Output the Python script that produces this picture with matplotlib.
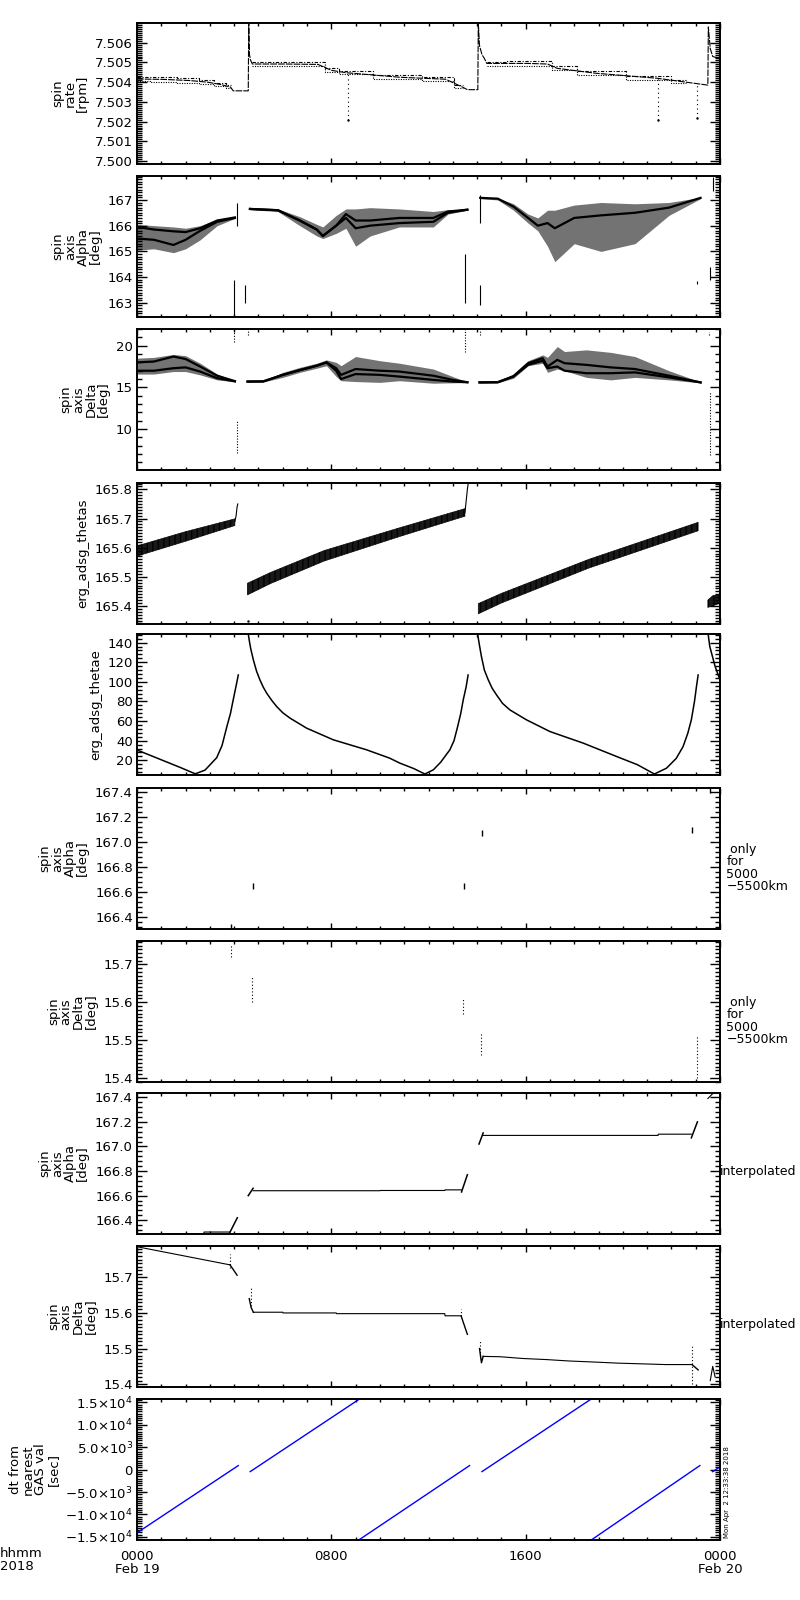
import numpy as np
import matplotlib
matplotlib.use("Agg")
import matplotlib.pyplot as plt
from matplotlib.ticker import MultipleLocator, AutoMinorLocator, FixedLocator

plt.rcParams['font.family'] = ['DejaVu Sans']
plt.rcParams['font.size'] = 9.5

## DATA (hours after 0000 UT on Feb 19) ##
# spin rate [rpm]: centre line of the banded trace
rate_t = [0.0, 1.1, 2.2, 2.9, 3.45, 3.85, 3.96, 4.58, 4.60, 4.63, 4.68, 4.75, 6.1, 7.45, 8.0, 8.6,
          10.8, 12.7, 13.4, 13.6, 14.03, 14.05, 14.1, 14.2, 14.3, 14.4, 16.1, 16.9, 17.3, 18.9,
          21.4, 22.6, 23.5, 23.52, 23.6, 23.7, 24.0]
rate_v = [7.50416, 7.50414, 7.50408, 7.50400, 7.50388, 7.50375, 7.50356, 7.50356, 7.50700, 7.50540,
          7.50510, 7.50492, 7.50492, 7.50490, 7.50460, 7.50448, 7.50425, 7.50415, 7.50375, 7.50362,
          7.50362, 7.50700, 7.50585, 7.50540, 7.50520, 7.50495, 7.50495, 7.50492, 7.50470, 7.50445,
          7.50420, 7.50400, 7.50385, 7.50680, 7.50570, 7.50530, 7.50520]
rate_band_t = [[0.0, 1.1, 2.2, 2.9, 3.45, 3.85],
               [4.75, 6.1, 7.45, 8.0, 8.6, 10.8, 12.7, 13.4],
               [14.4, 16.1, 16.9, 17.3, 18.9, 21.4, 22.6]]
rate_band_hi = [[7.50428, 7.50426, 7.50420, 7.50410, 7.50398, 7.50385],
                [7.50502, 7.50504, 7.50502, 7.50470, 7.50458, 7.50435, 7.50425, 7.50385],
                [7.50503, 7.50508, 7.50506, 7.50480, 7.50455, 7.50430, 7.50410]]
rate_band_lo = [[7.50404, 7.50402, 7.50397, 7.50390, 7.50380, 7.50368],
                [7.50482, 7.50482, 7.50480, 7.50452, 7.50440, 7.50417, 7.50405, 7.50368],
                [7.50484, 7.50484, 7.50482, 7.50462, 7.50437, 7.50410, 7.50394]]
rate_drop_t = [8.67, 21.45, 23.05]
rate_drop_hi = [7.50440, 7.50420, 7.50390]
rate_drop_lo = [7.50210, 7.50210, 7.50220]

# spin axis alpha [deg]: scatter envelopes and dense tracks, one entry per orbit
alpha_t = [[0.0, 0.7, 1.5, 2.0, 2.6, 3.3, 4.03],
           [4.65, 5.8, 6.7, 7.4, 7.65, 8.2, 8.6, 9.0, 9.6, 10.8, 12.2, 12.8, 13.6],
           [14.13, 14.85, 15.5, 16.1, 16.5, 16.9, 17.2, 18.0, 19.1, 20.5, 21.9, 23.2]]
alpha_track = [[165.95, 165.85, 165.78, 165.75, 165.9, 166.2, 166.32],
               [166.65, 166.6, 166.2, 165.85, 165.6, 166.0, 166.45, 166.2, 166.2, 166.3, 166.3, 166.55, 166.62],
               [167.08, 167.05, 166.74, 166.3, 166.0, 166.1, 165.9, 166.3, 166.4, 166.5, 166.7, 167.08]]
alpha_track2 = [[165.5, 165.45, 165.25, 165.45, 165.8, 166.15, 166.3],
                [166.65, 166.6, 166.2, 165.85, 165.6, 166.0, 166.3, 165.9, 166.0, 166.1, 166.15, 166.5, 166.62],
                None]
alpha_top = [[166.05, 166.0, 165.95, 165.9, 166.0, 166.25, 166.34],
             [166.67, 166.65, 166.35, 166.05, 165.95, 166.4, 166.65, 166.65, 166.7, 166.65, 166.55, 166.62, 166.63],
             [167.1, 167.08, 166.85, 166.45, 166.3, 166.6, 166.6, 166.8, 166.9, 166.85, 166.9, 167.1]]
alpha_bot = [[165.05, 165.1, 164.95, 165.1, 165.45, 166.0, 166.28],
             [166.62, 166.55, 166.0, 165.6, 165.5, 165.7, 165.9, 165.2, 165.6, 165.95, 165.95, 166.45, 166.6],
             [167.05, 167.0, 166.6, 166.1, 165.8, 165.2, 164.6, 165.3, 165.0, 165.3, 166.4, 167.05]]
alpha_jump_t = [4.0, 4.1, 4.45, 13.5, 14.1, 14.1, 23.05, 23.6, 23.7]
alpha_jump_lo = [162.45, 166.0, 163.0, 163.0, 166.1, 162.9, 163.75, 163.9, 167.35]
alpha_jump_hi = [163.9, 166.9, 163.7, 164.9, 167.2, 163.7, 163.85, 164.4, 167.9]

# spin axis delta [deg]
delta_t = [[0.0, 0.7, 1.5, 2.0, 2.6, 3.3, 4.03],
           [4.55, 5.2, 6.0, 6.7, 7.4, 7.8, 8.2, 8.4, 9.0, 10.0, 10.8, 12.2, 13.0, 13.6],
           [14.1, 14.85, 15.5, 16.1, 16.7, 16.9, 17.3, 17.6, 18.5, 19.5, 20.5, 21.9, 23.2]]
delta_track = [[18.0, 18.1, 18.7, 18.4, 17.5, 16.4, 15.75],
               [15.7, 15.72, 16.5, 17.07, 17.6, 18.0, 17.3, 16.5, 17.2, 17.0, 16.9, 16.4, 15.9, 15.62],
               [15.6, 15.62, 16.35, 17.9, 18.5, 17.5, 18.3, 17.9, 17.7, 17.4, 17.2, 16.4, 15.6]]
delta_track2 = [[17.0, 17.0, 17.3, 17.4, 16.9, 16.1, 15.72],
                [15.7, 15.72, 16.5, 17.07, 17.6, 18.0, 17.0, 16.0, 16.6, 16.5, 16.3, 15.9, 15.7, 15.62],
                [15.6, 15.62, 16.3, 17.7, 18.2, 17.3, 17.5, 17.0, 16.7, 16.7, 16.8, 16.2, 15.6]]
delta_top = [[18.5, 18.6, 18.95, 18.8, 17.9, 16.6, 15.8],
             [15.75, 15.78, 16.8, 17.4, 17.9, 18.3, 18.0, 17.6, 18.7, 18.2, 17.9, 17.2, 16.3, 15.65],
             [15.65, 15.7, 16.6, 18.2, 18.9, 18.6, 19.9, 19.3, 19.5, 19.2, 18.7, 17.0, 15.65]]
delta_bot = [[16.6, 16.6, 16.9, 16.9, 16.5, 15.9, 15.68],
             [15.65, 15.65, 16.2, 16.8, 17.3, 17.6, 16.3, 15.8, 15.7, 15.6, 15.8, 15.5, 15.55, 15.58],
             [15.55, 15.55, 16.1, 17.6, 17.9, 16.8, 17.2, 17.0, 16.2, 15.9, 16.2, 15.9, 15.55]]
delta_jump_t = [4.0, 4.1, 4.55, 13.5, 14.1, 23.55, 23.6]
delta_jump_lo = [20.4, 7.1, 21.3, 19.3, 21.3, 21.3, 6.9]
delta_jump_hi = [22.0, 11.05, 22.0, 22.0, 22.0, 21.7, 14.5]

# erg_adsg_thetas: band edges of the saw-tooth trace, plus the hooks at the gaps
thetas_t = [[0.0, 2.0, 4.03], [4.55, 5.5, 7.7, 10.8, 13.5], [14.05, 15.0, 18.6, 23.1], [23.5, 23.7, 24.0]]
thetas_hi = [[165.606, 165.655, 165.699], [165.478, 165.515, 165.590, 165.668, 165.734],
             [165.408, 165.443, 165.560, 165.687], [165.420, 165.435, 165.440]]
thetas_lo = [[165.571, 165.622, 165.676], [165.438, 165.477, 165.554, 165.638, 165.708],
             [165.373, 165.410, 165.530, 165.658], [165.395, 165.400, 165.410]]
hook_t = [[4.03, 4.08, 4.12, 4.15], [13.5, 13.55, 13.6, 13.65]]
hook_v = [[165.69, 165.71, 165.74, 165.75], [165.72, 165.76, 165.80, 165.83]]

# erg_adsg_thetae
thetae_t = [[0.0, 0.6, 1.2, 1.8, 2.4, 2.8, 3.28, 3.5, 3.7, 3.85, 3.96, 4.08, 4.17],
            [4.58, 4.63, 4.68, 4.79, 4.92, 5.06, 5.2, 5.34, 5.55, 5.75, 6.0, 6.3, 6.98, 8.08, 9.45,
             10.4, 10.82, 11.4, 11.85, 12.2, 12.5, 12.88, 13.05, 13.2, 13.33, 13.43, 13.55, 13.63],
            [14.02, 14.1, 14.18, 14.3, 14.46, 14.62, 14.8, 15.05, 15.35, 16.03, 17.0, 18.37, 19.74,
             20.6, 21.3, 21.8, 22.2, 22.48, 22.68, 22.82, 22.95, 23.03, 23.1],
            [23.51, 23.58, 23.8, 24.0]]
thetae_v = [[30.5, 24.5, 18.5, 12.5, 6.2, 10.0, 22.6, 35.0, 54.4, 68.0, 81.6, 96.0, 107.0],
            [149.0, 141.0, 134.0, 122.4, 111.0, 102.0, 94.5, 88.4, 81.0, 74.8, 68.5, 63.0, 52.8, 40.9,
             30.7, 22.2, 17.1, 11.5, 6.0, 10.3, 18.0, 30.7, 40.0, 54.4, 68.0, 81.6, 95.0, 107.0],
            [149.0, 137.0, 125.7, 112.0, 102.0, 93.5, 86.7, 78.0, 71.4, 61.3, 49.3, 37.5, 23.9,
             15.5, 6.0, 12.0, 22.0, 34.0, 48.0, 61.3, 80.0, 95.0, 107.0],
            [149.0, 136.0, 115.6, 102.0]]

# spin axis only for 5000-5500 km
alpha_only_t = [3.87, 4.76, 13.45, 14.2, 22.85, 23.6]
alpha_only_v = [166.32, 166.65, 166.65, 167.07, 167.10, 167.42]
delta_only_t = [3.85, 4.75, 13.4, 14.15, 23.05, 23.6]
delta_only_lo = [15.720, 15.600, 15.570, 15.460, 15.400, 15.389]
delta_only_hi = [15.755, 15.670, 15.610, 15.520, 15.510, 15.400]

# interpolated spin axis
alpha_int_t = [[1.29, 2.75, 2.76, 3.82], [4.78, 10.0, 10.01, 12.67, 12.68, 13.36],
               [14.25, 21.45, 21.46, 22.82], [23.5, 23.7]]
alpha_int_v = [[166.290, 166.290, 166.304, 166.304], [166.640, 166.640, 166.642, 166.642, 166.647, 166.647],
               [167.090, 167.090, 167.100, 167.100], [167.39, 167.43]]
alpha_slash_t = [[3.82, 4.13], [4.58, 4.78], [13.36, 13.6], [14.08, 14.25], [22.82, 23.07]]
alpha_slash_v = [[166.30, 166.42], [166.60, 166.66], [166.63, 166.77], [167.02, 167.11], [167.07, 167.20]]

delta_int_t = [[0.0, 3.83], [4.79, 6.0, 6.01, 8.2, 8.21, 12.67, 12.68, 13.35],
               [14.25, 14.95, 15.9, 16.86, 17.8, 18.85, 19.8, 20.8, 21.75, 22.85],
               [23.6, 23.7, 23.8]]
delta_int_v = [[15.786, 15.735], [15.602, 15.602, 15.600, 15.600, 15.598, 15.598, 15.592, 15.592],
               [15.478, 15.477, 15.472, 15.469, 15.465, 15.462, 15.459, 15.457, 15.455, 15.455],
               [15.41, 15.45, 15.42]]
delta_slash_t = [[3.83, 4.12], [4.62, 4.70, 4.79], [13.35, 13.6], [14.1, 14.18, 14.25], [22.85, 23.1]]
delta_slash_v = [[15.735, 15.706], [15.640, 15.615, 15.602], [15.590, 15.540], [15.500, 15.460, 15.478], [15.455, 15.440]]
delta_dots_t = [3.83, 4.70, 13.35, 14.12, 22.85]
delta_dots_lo = [15.725, 15.620, 15.590, 15.480, 15.400]
delta_dots_hi = [15.765, 15.670, 15.610, 15.525, 15.510]

# dt from nearest GAS value [sec]: straight ramps, start and end of each
dt_t0 = [0.0, 4.66, 9.13, 14.2, 18.7, 23.7]
dt_v0 = [-14100, -450, -15700, -450, -15700, -450]
dt_t1 = [4.17, 9.16, 13.69, 18.7, 23.17, 24.0]
dt_v1 = [900, 15750, 900, 15750, 900, 600]

## LAYOUT ##
fig = plt.figure(figsize=(8, 16), dpi=100)
tops = [23, 176, 329, 483, 634, 788, 941, 1093, 1246, 1399]   # panel tops in pixels
axes = []
for top in tops:
    axes.append(fig.add_axes([137 / 800, 1 - (top + 141) / 1600, 583 / 800, 141 / 1600]))


def style(ax, ylim, major, nminor, label, labelpad=4):
    ax.set_xlim(0, 24)
    ax.set_ylim(*ylim)
    ax.xaxis.set_major_locator(MultipleLocator(8))
    ax.xaxis.set_minor_locator(MultipleLocator(1))
    ax.yaxis.set_major_locator(FixedLocator(major))
    ax.yaxis.set_minor_locator(AutoMinorLocator(nminor))
    ax.tick_params(which='both', direction='in', top=True, right=True, width=1, colors='k')
    ax.tick_params(axis='y', which='major', length=7, pad=3)
    ax.tick_params(axis='y', which='minor', length=3.5)
    ax.tick_params(axis='x', which='major', length=4)
    ax.tick_params(axis='x', which='minor', length=2.2)
    ax.tick_params(axis='x', labelbottom=False)
    for sp in ax.spines.values():
        sp.set_linewidth(1.4)
    ax.set_ylabel(label, labelpad=labelpad, linespacing=0.95, fontsize=9.5)


k = dict(color='k', lw=0.8)

## PANEL 1: spin rate ##
ax = axes[0]
style(ax, (7.49985, 7.50700), [7.500, 7.501, 7.502, 7.503, 7.504, 7.505, 7.506], 10, "spin\nrate\n[rpm]")
ax.yaxis.set_major_formatter(plt.FormatStrFormatter('%.3f'))
ax.plot(rate_t, rate_v, color='k', lw=0.8, ls=(0, (6, 1)))
for bt, bh, bl in zip(rate_band_t, rate_band_hi, rate_band_lo):
    ax.plot(bt, bh, color='k', lw=0.8, ls=(0, (3, 1.5, 1, 1.5)), drawstyle='steps-mid')
    ax.plot(bt, bl, color='k', lw=0.8, ls=(0, (1, 1.2)), drawstyle='steps-mid')
ax.vlines(rate_drop_t, rate_drop_lo, rate_drop_hi, color='k', lw=0.8, ls=(0, (1, 3)))
ax.plot(rate_drop_t, rate_drop_lo, 'k.', ms=1.5)

## PANEL 2: spin axis alpha ##
ax = axes[1]
style(ax, (162.45, 167.93), [163, 164, 165, 166, 167], 10, "spin\naxis\nAlpha\n[deg]")
for i in range(3):
    ax.fill_between(alpha_t[i], alpha_bot[i], alpha_top[i], color='k', alpha=0.55, lw=0)
    ax.plot(alpha_t[i], alpha_track[i], color='k', lw=1.6)
    if alpha_track2[i] is not None:
        ax.plot(alpha_t[i], alpha_track2[i], color='k', lw=1.6)
ax.vlines(alpha_jump_t, alpha_jump_lo, alpha_jump_hi, color='k', lw=0.8)

## PANEL 3: spin axis delta ##
ax = axes[2]
style(ax, (5.1, 22.0), [10, 15, 20], 5, "spin\naxis\nDelta\n[deg]")
for i in range(3):
    ax.fill_between(delta_t[i], delta_bot[i], delta_top[i], color='k', alpha=0.55, lw=0)
    ax.plot(delta_t[i], delta_track[i], color='k', lw=1.6)
    ax.plot(delta_t[i], delta_track2[i], color='k', lw=1.6)
ax.vlines(delta_jump_t, delta_jump_lo, delta_jump_hi, color='k', lw=0.8, ls=(0, (1, 1.5)))

## PANEL 4: erg_adsg_thetas ##
ax = axes[3]
style(ax, (165.338, 165.822), [165.4, 165.5, 165.6, 165.7, 165.8], 10, "erg_adsg_thetas")
ax.yaxis.set_major_formatter(plt.FormatStrFormatter('%.1f'))
for bt, bh, bl in zip(thetas_t, thetas_hi, thetas_lo):
    ax.fill_between(bt, bl, bh, facecolor='k', edgecolor='k', hatch='|||', lw=0.5, alpha=0.9)
for ht, hv in zip(hook_t, hook_v):
    ax.plot(ht, hv, **k)
ax.plot([4.55], [165.35], 'k.', ms=1.5)

## PANEL 5: erg_adsg_thetae ##
ax = axes[4]
style(ax, (5.0, 148.8), [20, 40, 60, 80, 100, 120, 140], 5, "erg_adsg_thetae")
for tt, tv in zip(thetae_t, thetae_v):
    ax.plot(tt, tv, color='k', lw=1.1)

## PANEL 6: alpha only for 5000-5500 km ##
ax = axes[5]
style(ax, (166.30, 167.435), [166.4, 166.6, 166.8, 167.0, 167.2, 167.4], 5, "spin\naxis\nAlpha\n[deg]")
ax.yaxis.set_major_formatter(plt.FormatStrFormatter('%.1f'))
ax.plot(alpha_only_t, alpha_only_v, 'k|', ms=4, mew=1)

## PANEL 7: delta only for 5000-5500 km ##
ax = axes[6]
style(ax, (15.389, 15.762), [15.4, 15.5, 15.6, 15.7], 10, "spin\naxis\nDelta\n[deg]")
ax.yaxis.set_major_formatter(plt.FormatStrFormatter('%.1f'))
ax.vlines(delta_only_t, delta_only_lo, delta_only_hi, color='k', lw=0.8, ls=(0, (1, 2)))

## PANEL 8: interpolated alpha ##
ax = axes[7]
style(ax, (166.288, 167.435), [166.4, 166.6, 166.8, 167.0, 167.2, 167.4], 5, "spin\naxis\nAlpha\n[deg]")
ax.yaxis.set_major_formatter(plt.FormatStrFormatter('%.1f'))
for tt, tv in zip(alpha_int_t, alpha_int_v):
    ax.plot(tt, tv, **k)
for tt, tv in zip(alpha_slash_t, alpha_slash_v):
    ax.plot(tt, tv, color='k', lw=1.1)

## PANEL 9: interpolated delta ##
ax = axes[8]
style(ax, (15.392, 15.788), [15.4, 15.5, 15.6, 15.7], 10, "spin\naxis\nDelta\n[deg]")
ax.yaxis.set_major_formatter(plt.FormatStrFormatter('%.1f'))
for tt, tv in zip(delta_int_t, delta_int_v):
    ax.plot(tt, tv, **k)
for tt, tv in zip(delta_slash_t, delta_slash_v):
    ax.plot(tt, tv, color='k', lw=1.0)
ax.vlines(delta_dots_t, delta_dots_lo, delta_dots_hi, color='k', lw=0.8, ls=(0, (1, 2)))

## PANEL 10: dt from nearest GAS value ##
ax = axes[9]
dt_ticks = [-15000, -10000, -5000, 0, 5000, 10000, 15000]
dt_labels = ['\u22121.5\u00d710$^4$', '\u22121.0\u00d710$^4$', '\u22125.0\u00d710$^3$', '0',
             '5.0\u00d710$^3$', '1.0\u00d710$^4$', '1.5\u00d710$^4$']
style(ax, (-15700, 15750), dt_ticks, 10, "dt from\nnearest\nGAS val\n[sec]")
ax.set_yticklabels(dt_labels)
for t0, v0, t1, v1 in zip(dt_t0, dt_v0, dt_t1, dt_v1):
    ax.plot([t0, t1], [v0, v1], color='#0000ff', lw=1.0)
ax.set_xticks([0, 8, 16, 24])
ax.set_xticklabels(["0000\nFeb 19", "0800", "1600", "0000\nFeb 20"], linespacing=1.0)
ax.tick_params(axis='x', labelbottom=True, pad=7)
for lab in ax.get_xticklabels():
    lab.set_verticalalignment('top')

## TEXT AROUND THE PANELS ##
fig.text(0.0, 1 - 1547 / 1600, "hhmm\n2018", ha='left', va='top', fontsize=9.5, linespacing=1.0)
for ax in axes[5:7]:
    pos = ax.get_position()
    fig.text(0.908, (pos.y0 + pos.y1) / 2 - 0.006, " only\nfor\n5000\n\u22125500km",
             ha='left', va='center', fontsize=9, linespacing=0.95)
for ax in axes[7:9]:
    pos = ax.get_position()
    fig.text(0.9, (pos.y0 + pos.y1) / 2 - 0.005, "interpolated", ha='left', va='center', fontsize=9)
fig.text(0.909, 1 - 1538 / 1600, "Mon Apr  2 12:33:38 2018", rotation=90, ha='center', va='bottom', fontsize=5)

fig.savefig("out.png", dpi=100)
